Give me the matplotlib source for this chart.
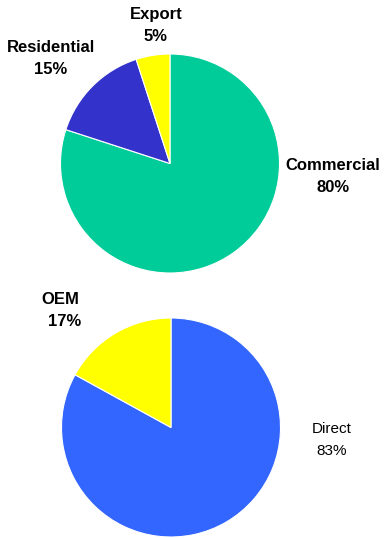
import matplotlib
matplotlib.use("Agg")
import matplotlib.pyplot as plt

plt.rcParams['font.family'] = ['Liberation Sans', 'DejaVu Sans']

# Sales by market segment
segments = ["Commercial", "Residential", "Export"]
segment_share = [80, 15, 5]
segment_colors = ["#00CC99", "#3333CC", "#FFFF00"]

# Sales by channel
channels = ["Direct", "OEM"]
channel_share = [83, 17]
channel_colors = ["#3366FF", "#FFFF00"]

W, H = 384, 538
fig = plt.figure(figsize=(W / 100, H / 100), dpi=100)
fig.patch.set_facecolor("white")


def pie_axes(cx, cy, r):
    return fig.add_axes([(cx - r) / W, 1 - (cy + r) / H, 2 * r / W, 2 * r / H])


def label(x, y, name, pct, weight, size):
    fig.text(x / W, 1 - y / H, name, ha="center", va="center",
             fontsize=size, fontweight=weight, color="black")
    fig.text(x / W, 1 - (y + 22) / H, f"{pct}%", ha="center", va="center",
             fontsize=size, fontweight=weight, color="black")


ax1 = pie_axes(170, 163.5, 109.5)
ax1.pie(segment_share, colors=segment_colors, startangle=90, counterclock=False,
        wedgeprops=dict(edgecolor="white", linewidth=0.8))
ax1.set_aspect("equal")
ax1.set_xlim(-1, 1)
ax1.set_ylim(-1, 1)
ax1.axis("off")

ax2 = pie_axes(171, 427.5, 109.5)
ax2.pie(channel_share, colors=channel_colors, startangle=90, counterclock=False,
        wedgeprops=dict(edgecolor="white", linewidth=0.8))
ax2.set_aspect("equal")
ax2.set_xlim(-1, 1)
ax2.set_ylim(-1, 1)
ax2.axis("off")

seg_pos = {"Commercial": (333, 165), "Residential": (51, 48), "Export": (156, 15)}
for name, pct in zip(segments, segment_share):
    x, y = seg_pos[name]
    label(x, y, name, pct, "bold", 12)

chan_pos = {"Direct": (332, 429), "OEM": (60, 300)}
chan_style = {"Direct": ("normal", 11), "OEM": ("bold", 12)}
for name, pct in zip(channels, channel_share):
    x, y = chan_pos[name]
    w, s = chan_style[name]
    if name == "OEM":
        fig.text(x / W, 1 - y / H, name, ha="center", va="center",
                 fontsize=s, fontweight=w)
        fig.text((x + 5) / W, 1 - (y + 22) / H, f"{pct}%", ha="center",
                 va="center", fontsize=s, fontweight=w)
    else:
        label(x, y, name, pct, w, s)

fig.savefig("out.png", dpi=100)
